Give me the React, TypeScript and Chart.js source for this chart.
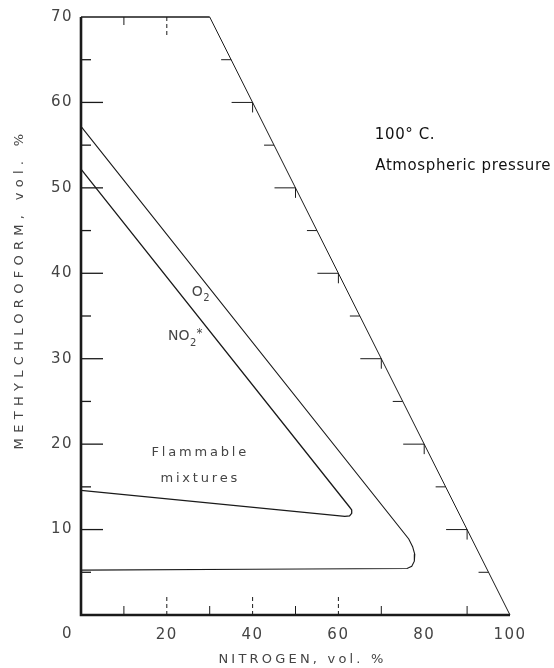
import React, { useEffect, useRef } from "react";
import { Chart, registerables } from "chart.js";

Chart.register(...registerables);

// Axis tick labels
const xTickValues = [0, 20, 40, 60, 80, 100];
const yTickValues = [10, 20, 30, 40, 50, 60, 70];

// Boundary of the (triangular) composition diagram
const borderLB_N = [0, 0, 100];
const borderLB_M = [70, 0, 0];
const borderTop_N = [0, 30];
const borderTop_M = [70, 70];
const borderDiag_N = [30, 100];
const borderDiag_M = [70, 0];

// O2 curve (nitrogen %, methylchloroform %)
const o2N = [0, 76.4, 77.3, 77.8, 77.7, 77.1, 76.0, 40, 0];
const o2M = [57.2, 8.9, 8.0, 7.1, 6.3, 5.7, 5.45, 5.35, 5.25];

// NO2* curve
const no2N = [0, 62.5, 63.1, 63.1, 62.6, 61.5, 0];
const no2M = [52.2, 12.7, 12.3, 11.9, 11.6, 11.55, 14.6];

// Tick marks (inward)
const leftTicks = [5, 10, 15, 20, 25, 30, 35, 40, 45, 50, 55, 60, 65];
const bottomTicksLong = [20, 40, 60];
const bottomTicksShort = [10, 30, 50, 70, 90];
const topTicksShort = [10];
const topTicksLong = [20];
const diagTicks = [5, 10, 15, 20, 25, 30, 35, 40, 45, 50, 55, 60, 65];

const pts = (xs: number[], ys: number[]) => xs.map((x, i) => ({ x, y: ys[i] }));

const INK = "#1a1a1a";
const TXT = "#444";

const decorPlugin = {
  id: "decor",
  beforeDraw(chart: any) {
    chart.ctx.letterSpacing = "1.5px";
  },
  beforeDatasetsDraw(chart: any) {
    chart.ctx.letterSpacing = "0px";
  },
  afterDraw(chart: any) {
    const { ctx, scales } = chart;
    const xs = scales.x;
    const ys = scales.y;
    const X = (v: number) => xs.getPixelForValue(v);
    const Y = (v: number) => ys.getPixelForValue(v);
    ctx.save();
    ctx.strokeStyle = INK;
    ctx.lineCap = "butt";
    // left axis ticks
    ctx.lineWidth = 1.3;
    leftTicks.forEach((v) => {
      const len = v % 10 === 0 ? 22 : 10;
      ctx.beginPath();
      ctx.moveTo(X(0), Y(v));
      ctx.lineTo(X(0) + len, Y(v));
      ctx.stroke();
    });
    // bottom ticks
    ctx.lineWidth = 1;
    bottomTicksShort.forEach((v) => {
      ctx.beginPath();
      ctx.moveTo(X(v), Y(0));
      ctx.lineTo(X(v), Y(0) - 9);
      ctx.stroke();
    });
    ctx.setLineDash([4, 3]);
    bottomTicksLong.forEach((v) => {
      ctx.beginPath();
      ctx.moveTo(X(v), Y(0));
      ctx.lineTo(X(v), Y(0) - 21);
      ctx.stroke();
    });
    topTicksLong.forEach((v) => {
      ctx.beginPath();
      ctx.moveTo(X(v), Y(70));
      ctx.lineTo(X(v), Y(70) + 20);
      ctx.stroke();
    });
    ctx.setLineDash([]);
    topTicksShort.forEach((v) => {
      ctx.beginPath();
      ctx.moveTo(X(v), Y(70));
      ctx.lineTo(X(v), Y(70) + 8);
      ctx.stroke();
    });
    // diagonal ticks
    diagTicks.forEach((v) => {
      const px = X(100 - v);
      const py = Y(v);
      const len = v % 10 === 0 ? 21 : 10;
      ctx.beginPath();
      ctx.moveTo(px, py);
      ctx.lineTo(px - len, py);
      ctx.stroke();
      if (v % 10 === 0) {
        ctx.beginPath();
        ctx.moveTo(px, py);
        ctx.lineTo(px, py + 10);
        ctx.stroke();
      }
    });

    // texts
    ctx.fillStyle = TXT;
    ctx.textBaseline = "middle";
    // corner "0"
    ctx.font = "15px 'DejaVu Sans'";
    ctx.letterSpacing = "1.5px";
    ctx.textAlign = "right";
    ctx.fillText("0", X(0) - 8, Y(0) + 19);

    // axis titles
    ctx.font = "13px 'DejaVu Sans'";
    ctx.textAlign = "center";
    ctx.letterSpacing = "3.2px";
    ctx.fillText("NITROGEN, vol. %", (X(0) + X(100)) / 2 + 7, Y(0) + 45);
    ctx.save();
    ctx.translate(20, Y(0) - 326);
    ctx.rotate(-Math.PI / 2);
    ctx.letterSpacing = "5.3px";
    ctx.fillText("METHYLCHLOROFORM, vol. %", 0, 0);
    ctx.restore();

    // region label
    ctx.letterSpacing = "2.8px";
    ctx.font = "13px 'DejaVu Sans'";
    ctx.fillText("Flammable", X(27.8), Y(19));
    ctx.fillText("mixtures", X(27.8), Y(16));

    // curve labels
    ctx.letterSpacing = "0px";
    ctx.textAlign = "left";
    ctx.font = "14px 'DejaVu Sans'";
    ctx.fillText("O", X(25.8), Y(37.8));
    ctx.fillText("NO", X(20.3), Y(32.6));
    const noW = ctx.measureText("NO").width;
    const oW = ctx.measureText("O").width;
    ctx.font = "10px 'DejaVu Sans'";
    ctx.fillText("2", X(25.8) + oW + 0.5, Y(37.1));
    ctx.fillText("2", X(20.3) + noW + 0.5, Y(31.8));
    ctx.font = "12px 'DejaVu Sans'";
    ctx.fillText("*", X(20.3) + noW + 7, Y(32.9));

    // conditions
    ctx.font = "15px 'DejaVu Sans'";
    ctx.fillStyle = "#111";
    ctx.letterSpacing = "0.6px";
    ctx.fillText("100\u00B0 C.", X(68.5), Y(56.2));
    ctx.fillText("Atmospheric pressure", X(68.6), Y(52.6));
    ctx.restore();
  },
};

export default function App() {
  const ref = useRef<HTMLCanvasElement | null>(null);
  useEffect(() => {
    if (!ref.current) return;
    const lineDs = (data: any, w: number) => ({
      data,
      showLine: true,
      borderColor: INK,
      borderWidth: w,
      pointRadius: 0,
      fill: false,
      tension: 0,
      clip: false as any,
    });
    const chart = new Chart(ref.current, {
      type: "scatter",
      data: {
        datasets: [
          lineDs(pts(borderLB_N, borderLB_M), 2.6),
          lineDs(pts(borderTop_N, borderTop_M), 1.6),
          lineDs(pts(borderDiag_N, borderDiag_M), 1),
          lineDs(pts(o2N, o2M), 1.1),
          lineDs(pts(no2N, no2M), 1.3),
        ],
      },
      plugins: [decorPlugin],
      options: {
        responsive: false,
        animation: false,
        layout: { padding: { top: 17, right: 44, left: 0, bottom: 0 } },
        plugins: { legend: { display: false }, tooltip: { enabled: false } },
        scales: {
          x: {
            type: "linear",
            min: 0,
            max: 100,
            afterBuildTicks: (s: any) => {
              s.ticks = xTickValues.map((v) => ({ value: v }));
            },
            afterFit: (s: any) => {
              s.height = 53;
            },
            grid: { display: false, drawTicks: false },
            border: { display: false },
            ticks: {
              padding: 11,
              color: TXT,
              font: { family: "'DejaVu Sans'", size: 15 },
              callback: (v: any) => (v === 0 ? "" : String(v)),
              maxRotation: 0,
            },
          },
          y: {
            type: "linear",
            min: 0,
            max: 70,
            afterBuildTicks: (s: any) => {
              s.ticks = yTickValues.map((v) => ({ value: v }));
            },
            afterFit: (s: any) => {
              s.width = 81;
            },
            grid: { display: false, drawTicks: false },
            border: { display: false },
            ticks: {
              padding: 8,
              color: TXT,
              font: { family: "'DejaVu Sans'", size: 15 },
            },
          },
        },
      },
    });
    return () => chart.destroy();
  }, []);
  return (
    <div style={{ position: "absolute", left: 0, top: 0, width: 554, height: 668, background: "#fff" }}>
      <canvas ref={ref} width={554} height={668} style={{ display: "block" }} />
    </div>
  );
}
